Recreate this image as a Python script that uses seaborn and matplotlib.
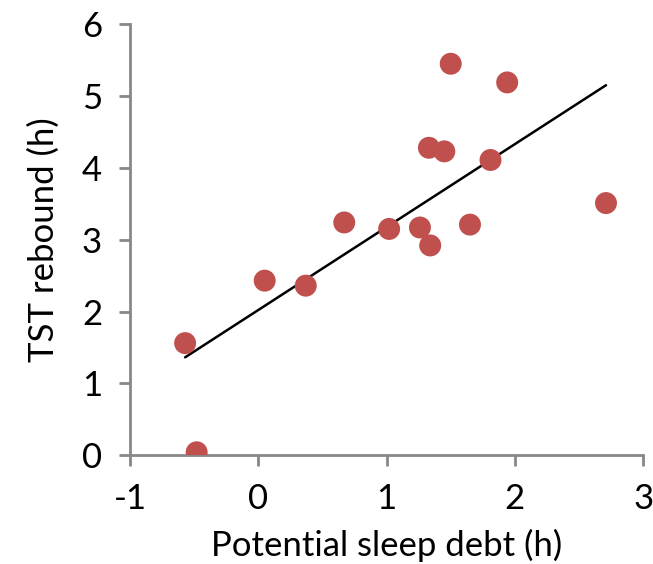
import pandas as pd
import seaborn as sns
import matplotlib.pyplot as plt

# Values
sleep_debt = [-0.57, -0.48, 0.05, 0.37, 0.67, 1.02, 1.26, 1.33, 1.34, 1.45, 1.50, 1.65, 1.81, 1.94, 2.71]
tst_rebound = [1.56, 0.04, 2.43, 2.36, 3.24, 3.15, 3.17, 4.28, 2.92, 4.23, 5.45, 3.21, 4.11, 5.19, 3.51]

data = pd.DataFrame({'debt': sleep_debt, 'rebound': tst_rebound})

sns.set_style('white')
plt.rcParams['font.family'] = ['Lato', 'DejaVu Sans']
plt.rcParams['axes.unicode_minus'] = False

fig = plt.figure(figsize=(6.53, 5.64), dpi=100)
ax = fig.add_axes([0.199, 0.193, 0.786, 0.764])

# Scatter points
sns.scatterplot(x='debt', y='rebound', data=data, ax=ax, color='#C0504D',
                s=250, edgecolor='none', zorder=3)
# Linear trend line
sns.regplot(x='debt', y='rebound', data=data, ax=ax, ci=None, scatter=False,
            line_kws={'color': 'black', 'lw': 1.8, 'zorder': 2})

ax.set_xlim(-1, 3)
ax.set_ylim(0, 6)
ax.set_xticks([-1, 0, 1, 2, 3])
ax.set_yticks([0, 1, 2, 3, 4, 5, 6])
ax.set_xlabel('Potential sleep debt (h)', fontsize=25, labelpad=10, color='black')
ax.set_ylabel('TST rebound (h)', fontsize=25, labelpad=16, color='black')
ax.tick_params(axis='both', labelsize=25, length=8, width=2, color='#888888',
               labelcolor='black', direction='out', pad=12, left=True, bottom=True)

sns.despine(ax=ax)
for side in ['left', 'bottom']:
    ax.spines[side].set_color('#888888')
    ax.spines[side].set_linewidth(2)

plt.savefig('out.png', dpi=100)
